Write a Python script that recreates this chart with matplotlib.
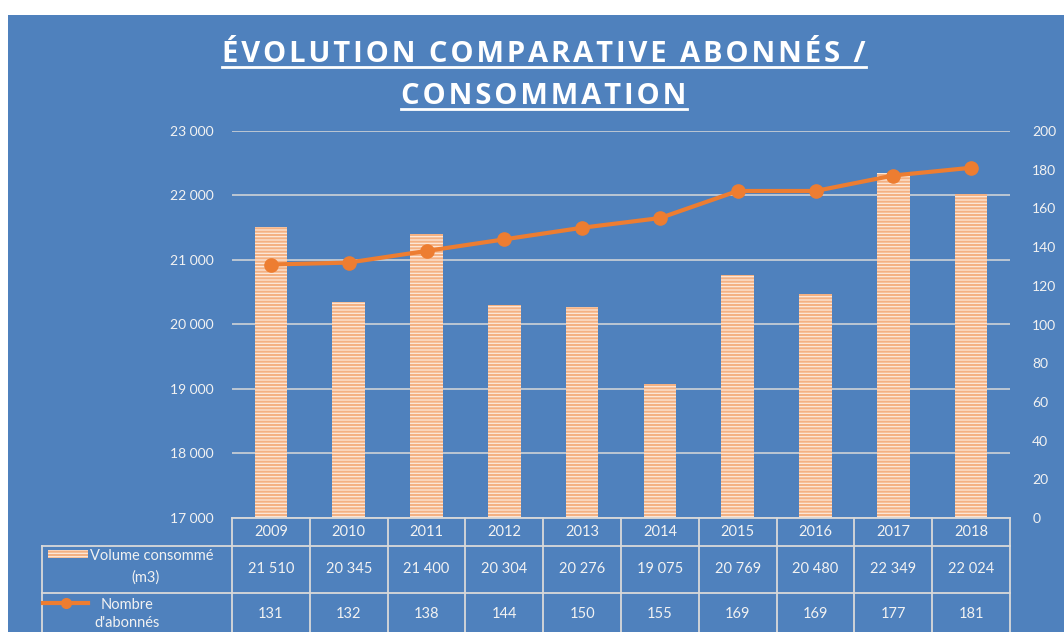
import matplotlib
matplotlib.use("Agg")
import matplotlib.pyplot as plt
from matplotlib.lines import Line2D
from matplotlib.patches import Rectangle
from matplotlib import transforms

years = ['2009', '2010', '2011', '2012', '2013', '2014', '2015', '2016', '2017', '2018']
volume = [21510, 20345, 21400, 20304, 20276, 19075, 20769, 20480, 22349, 22024]
abonnes = [131, 132, 138, 144, 150, 155, 169, 169, 177, 181]

title_lines = ['ÉVOLUTION COMPARATIVE ABONNÉS /', 'CONSOMMATION']
label_volume = ['Volume consommé', '(m3)']
label_abonnes = ['Nombre', "d'abonnés"]

BLUE = '#4F81BD'
ORANGE = '#ED7D31'
BAR_FACE = '#FDE9DA'
BAR_HATCH = '#F4B183'
GRID = '#D9D9D9'
TXT = '#F2F2F2'

W, H = 1064, 632
plt.rcParams['font.family'] = ['Lato', 'DejaVu Sans']
plt.rcParams['hatch.linewidth'] = 1.5

fig = plt.figure(figsize=(W / 100, H / 100), dpi=100)
fig.patch.set_facecolor('white')


def fx(px):
    return px / W


def fy(py):
    return 1 - py / H


def fmt(v):
    return f'{v:,}'.replace(',', ' ')


# blue panel with a thin white margin at top and left
fig.patches.append(Rectangle((fx(8), 0), 1 - fx(8), fy(15), transform=fig.transFigure,
                             facecolor=BLUE, edgecolor='none', zorder=-10))

x0, x1, ytop, ybot = 232, 1010, 131, 518
ax = fig.add_axes([fx(x0), fy(ybot), fx(x1) - fx(x0), fy(ytop) - fy(ybot)])
ax.set_facecolor('none')
ax2 = ax.twinx()

pos = list(range(len(years)))
ax.bar(pos, volume, width=0.42, color=BAR_FACE, hatch='-----', edgecolor=BAR_HATCH,
       linewidth=0, zorder=2)
ax.set_xlim(-0.5, len(years) - 0.5)
ax.set_ylim(17000, 23000)
ax.set_yticks(range(17000, 23001, 1000))
ax.set_yticklabels([fmt(v) for v in range(17000, 23001, 1000)])
ax.grid(axis='y', color=GRID, linewidth=1.1, zorder=1)
ax.set_axisbelow(True)
ax.set_xticks([])
for s in ax.spines.values():
    s.set_visible(False)
ax.tick_params(axis='y', length=0, pad=13, labelsize=10, labelcolor=TXT)

ax2.plot(pos, abonnes, color=ORANGE, linewidth=3, marker='o', markersize=9.5, zorder=3)
ax2.set_ylim(0, 200)
ax2.set_yticks(range(0, 201, 20))
for s in ax2.spines.values():
    s.set_visible(False)
ax2.tick_params(axis='y', length=0, pad=16, labelsize=10, labelcolor=TXT)

# title, letter-spaced and underlined
fig.canvas.draw()
renderer = fig.canvas.get_renderer()
for line, base in zip(title_lines, [62, 104]):
    spaced = '\u200a'.join(line)
    t = fig.text(fx(544), fy(base), spaced, ha='center', va='baseline', fontsize=21,
                 fontweight='bold', color='white', family=['Open Sans', 'DejaVu Sans'])
    bb = t.get_window_extent(renderer=renderer)
    fig.lines.append(Line2D([bb.x0 / W, bb.x1 / W], [fy(base + 5)] * 2,
                            transform=fig.transFigure, color='white', linewidth=2))

# data table under the plot
tr = transforms.blended_transform_factory(ax.transData, fig.transFigure)
edges = [i - 0.5 for i in range(len(years) + 1)]
lk = dict(color=GRID, linewidth=1.3, clip_on=False)
fig.lines.append(Line2D([fx(42), fx(x1)], [fy(546)] * 2, transform=fig.transFigure, **lk))
fig.lines.append(Line2D([fx(42), fx(x1)], [fy(593)] * 2, transform=fig.transFigure, **lk))
fig.lines.append(Line2D([fx(x0), fx(x1)], [fy(518)] * 2, transform=fig.transFigure, **lk))
fig.lines.append(Line2D([fx(42)] * 2, [fy(546), fy(632)], transform=fig.transFigure, **lk))
for e in edges:
    fig.lines.append(Line2D([e, e], [fy(518), fy(632)], transform=tr, **lk))

tk = dict(transform=tr, ha='center', va='center', fontsize=10.5, color=TXT)
for i, yr in enumerate(years):
    fig.text(i, fy(532), yr, **tk)
    fig.text(i, fy(569), fmt(volume[i]), **tk)
    fig.text(i, fy(614), str(abonnes[i]), **tk)

# legend keys in the first column
fig.patches.append(Rectangle((fx(48), fy(558)), fx(88) - fx(48), fy(550) - fy(558),
                             transform=fig.transFigure, facecolor=BAR_FACE, hatch='-----',
                             edgecolor=BAR_HATCH, linewidth=0))
fig.text(fx(90), fy(556), label_volume[0], ha='left', va='center', fontsize=10.5, color=TXT)
fig.text(fx(145), fy(578), label_volume[1], ha='center', va='center', fontsize=10.5, color=TXT)
fig.lines.append(Line2D([fx(43), fx(66), fx(88)], [fy(603)] * 3, transform=fig.transFigure,
                        color=ORANGE, linewidth=3, marker='o', markersize=7, markevery=[1]))
fig.text(fx(127), fy(605), label_abonnes[0], ha='center', va='center', fontsize=10.5, color=TXT)
fig.text(fx(127), fy(623), label_abonnes[1], ha='center', va='center', fontsize=10.5, color=TXT)

fig.savefig('out.png', dpi=100, facecolor=fig.get_facecolor())
